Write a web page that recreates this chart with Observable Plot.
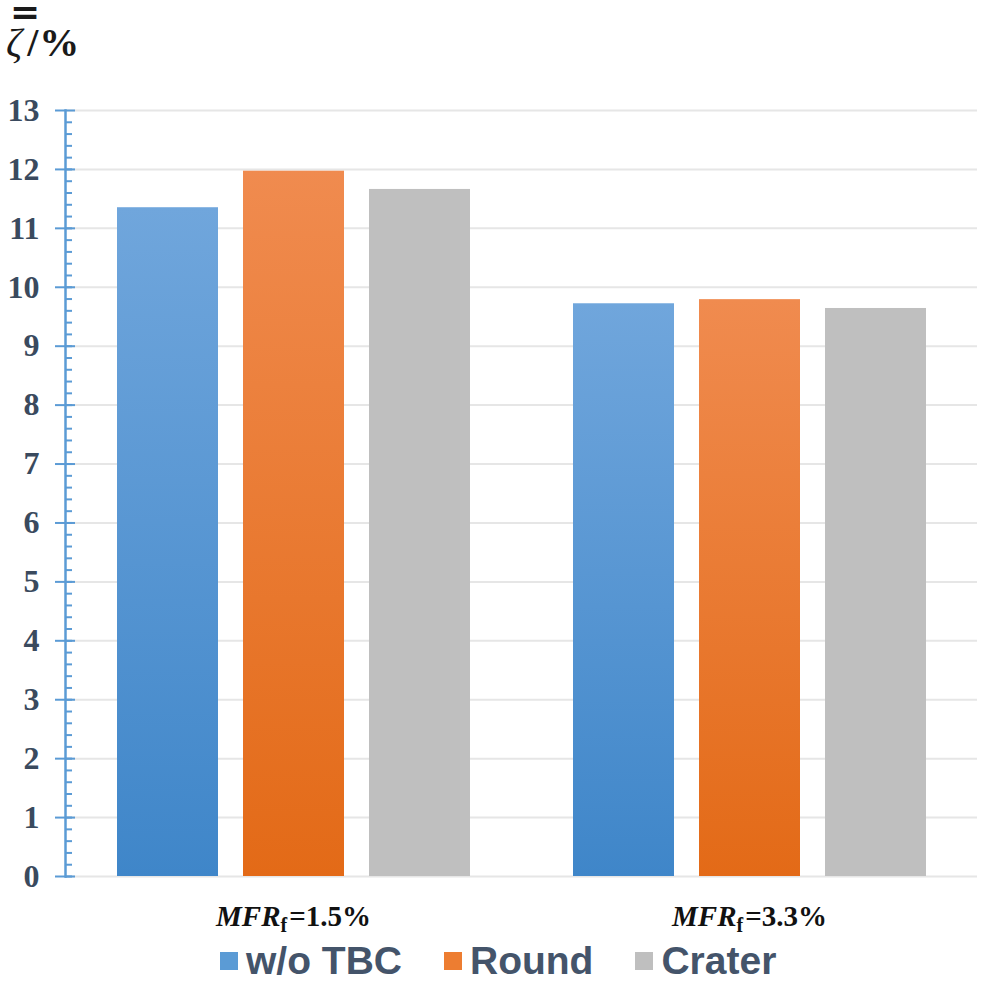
<!DOCTYPE html>
<html><head><meta charset="utf-8">
<script src="https://cdn.jsdelivr.net/npm/d3@7"></script>
<script src="https://cdn.jsdelivr.net/npm/@observablehq/plot@0.6"></script>
<style>
body{margin:0;background:#fff;}
#wrap{position:relative;width:984px;height:981px;overflow:hidden;}
#ybar{position:absolute;left:10px;top:4px;font-family:"DejaVu Sans",sans-serif;font-weight:bold;font-size:36px;line-height:16px;height:16px;color:#1a1a1a;z-index:2;}
#ylab{position:absolute;left:6px;top:21px;font-family:"Liberation Serif",serif;font-weight:bold;font-size:40px;color:#1a1a1a;line-height:44px;z-index:2;white-space:nowrap;letter-spacing:1px;}
#ylab i{font-weight:normal;margin-right:4px;}
#legend{position:absolute;left:0;top:940px;width:984px;height:41px;display:flex;align-items:center;padding-left:220px;box-sizing:border-box;gap:42px;font-family:"Liberation Sans",Arial,sans-serif;font-weight:bold;font-size:39px;color:#44546a;line-height:41px;}
#legend .item{display:flex;align-items:center;height:41px;white-space:nowrap;}
#legend .sw{width:18px;height:18px;margin-right:8px;flex:none;}
</style></head><body>
<svg width="0" height="0" style="position:absolute">
<defs>
<linearGradient id="gBlue" x1="0" y1="0" x2="0" y2="1"><stop offset="0" stop-color="#70a6dc"/><stop offset="1" stop-color="#3f86c9"/></linearGradient>
<linearGradient id="gOrange" x1="0" y1="0" x2="0" y2="1"><stop offset="0" stop-color="#f08b4f"/><stop offset="1" stop-color="#e36a17"/></linearGradient>
<linearGradient id="gGray" x1="0" y1="0" x2="0" y2="1"><stop offset="0" stop-color="#bfbfbf"/><stop offset="1" stop-color="#bfbfbf"/></linearGradient>
</defs></svg>
<div id="wrap">
  <div id="ybar">=</div>
  <div id="ylab"><i>ζ</i>/%</div>
  <div id="chart"></div>
  <div id="legend"></div>
</div>
<script>
// ---- data ----
const groups = ["1.5%", "3.3%"];
const series = ["w/o TBC", "Round", "Crater"];
const valuesMFR15 = [11.35, 11.97, 11.66];
const valuesMFR33 = [9.72, 9.79, 9.64];
const yTicks = [0,1,2,3,4,5,6,7,8,9,10,11,12,13];
const minorTicks = d3.range(0, 65).map(i => i / 5);
const seriesFills = ["url(#gBlue)", "url(#gOrange)", "url(#gGray)"];
const legendColors = ["#5b9bd5", "#ed7d31", "#bfbfbf"];

const data = [];
series.forEach((s, i) => {
  data.push({group: groups[0], series: s, value: valuesMFR15[i], fill: seriesFills[i]});
  data.push({group: groups[1], series: s, value: valuesMFR33[i], fill: seriesFills[i]});
});

const axisBlue = "#5b9bd5";
const plot = Plot.plot({
  width: 984,
  height: 940,
  marginTop: 110,
  marginLeft: 65,
  marginRight: 7,
  marginBottom: 64,
  style: {background: "transparent", overflow: "visible"},
  fx: {domain: groups, padding: 0, label: null},
  x: {domain: series, paddingInner: 0.2, paddingOuter: 0.4, axis: null},
  y: {domain: [0, 13], label: null},
  color: {type: "identity"},
  marks: [
    Plot.gridY(yTicks, {stroke: "#e6e6e6", strokeOpacity: 1, strokeWidth: 2}),
    Plot.barY(data, {fx: "group", x: "series", y: "value", fill: "fill"}),
    Plot.frame({anchor: "left", facetAnchor: "left", stroke: axisBlue, strokeWidth: 2.5}),
    Plot.axisY(minorTicks, {tickSize: 7, dx: 7, text: null, stroke: axisBlue, strokeWidth: 2}),
    Plot.axisY(yTicks, {tickSize: 20, dx: 10, text: null, stroke: axisBlue, strokeWidth: 2}),
    Plot.axisY(yTicks, {tickSize: 0, tickPadding: 26, fontSize: 32, fontWeight: "bold", fontFamily: "Liberation Serif", fill: "#3a4a5e", tickFormat: d => String(d)}),
    Plot.axisFx({anchor: "bottom", tickSize: 0, tickPadding: 29, fontSize: 29, fontWeight: "bold", fontFamily: "Liberation Serif", fill: "#111", label: null})
  ]
});
document.getElementById("chart").appendChild(plot);

// rich tick labels for the facet axis: MFR_f=...
d3.select(plot).selectAll('g[aria-label="fx-axis tick label"] text').each(function() {
  const t = d3.select(this);
  const v = t.text();
  t.text(null);
  t.append("tspan").attr("font-style", "italic").text("MFR");
  t.append("tspan").attr("font-style", "normal").attr("font-size", 20).attr("dy", 6).text("f");
  t.append("tspan").attr("dy", -6).attr("dx", 2).text("=" + v);
});

// legend
const legend = d3.select("#legend");
series.forEach((s, i) => {
  const it = legend.append("div").attr("class", "item");
  it.append("div").attr("class", "sw").style("background", legendColors[i]);
  it.append("span").text(s);
});
</script>
</body></html>
